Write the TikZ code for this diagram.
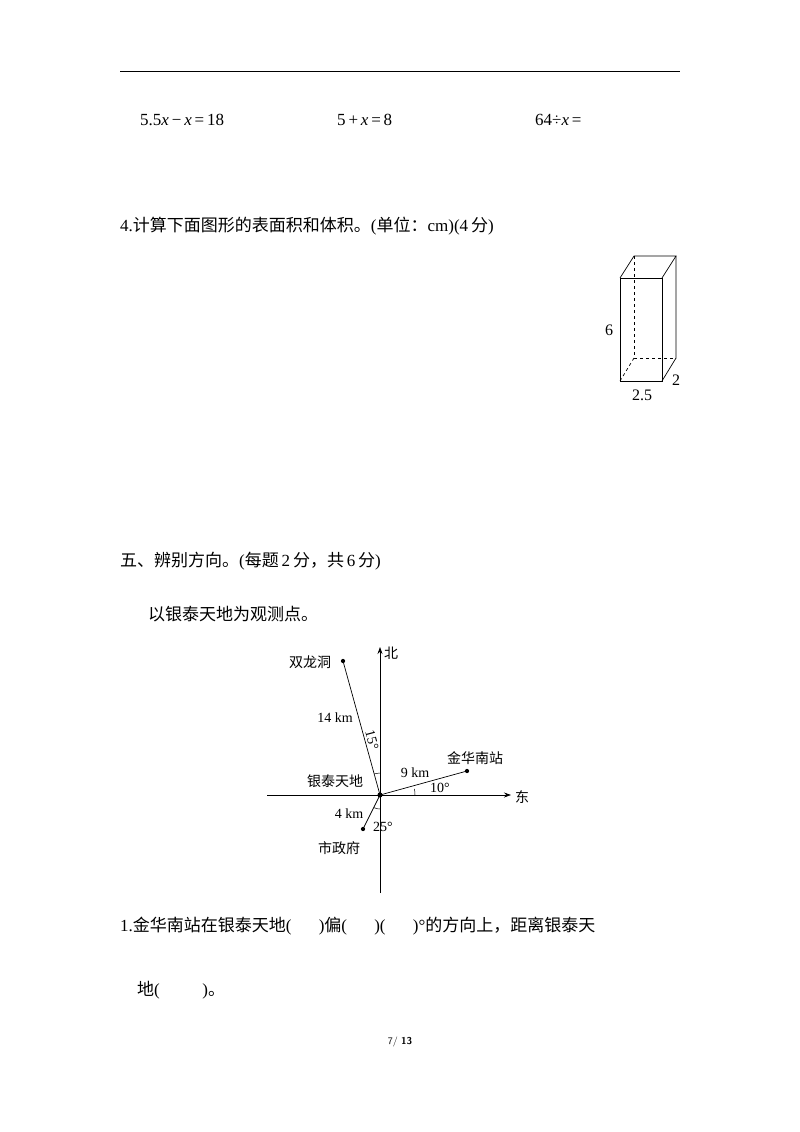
\documentclass[tikz,border=0pt]{standalone}
\usepackage{fontspec}
\setmainfont{Liberation Serif}
\newfontfamily\cjk{Noto Sans CJK SC}
\usetikzlibrary{arrows.meta,calc}
\begin{document}
\begin{tikzpicture}[x=1pt,y=-1pt,
  txt/.style={anchor=west,inner sep=0pt,font=\fontsize{17}{20}\selectfont},
  sm/.style={inner sep=1pt,font=\fontsize{14}{16}\selectfont},
  lab/.style={inner sep=1pt,font=\cjk\fontsize{14}{16}\selectfont},
  ln/.style={line width=0.7pt},
  dot/.style={circle,fill,inner sep=1.5pt}]
\useasboundingbox[fill=white] (0,0) rectangle (800,1132);
\draw[line width=1pt] (120,72) -- (680,72);
\node[txt] (e1) at (140,120) {5.5\textit{x}\,−\,\textit{x}\,=\,18};
\node[txt] (e2) at (337,120) {5\,+\,\textit{x}\,=\,8};
\node[txt] (e3) at (535,120) {64÷\textit{x}\,=};
\node[txt] (q4) at (120,226) {4.{\cjk 计算下面图形的表面积和体积。}(\cjk 单位：\rmfamily cm)(4\,{\cjk 分})};
% box
\draw[ln] (620,278) rectangle (662,381);
\draw[ln] (620,278) -- (634,256) -- (676,256) -- (662,278);
\draw[ln] (676,256) -- (676,358) -- (662,381);
\draw[ln,dashed] (634,256) -- (634,358) -- (676,358);
\draw[ln,dashed] (634,358) -- (620,381);
\node[sm,font=\fontsize{16}{18}\selectfont] (h) at (609,330) {6};
\node[sm,font=\fontsize{16}{18}\selectfont] (w) at (642,395) {2.5};
\node[sm,font=\fontsize{16}{18}\selectfont] (d) at (676,380) {2};
\node[txt] (s5) at (120,561) {\cjk 五、辨别方向。\rmfamily(\cjk 每题\rmfamily\,2\,\cjk 分，共\rmfamily\,6\,\cjk 分\rmfamily)};
\node[txt] (obs) at (148,614) {\cjk 以银泰天地为观测点。};
% compass
\coordinate (O) at (380,795);
\coordinate (N) at (380,647);
\coordinate (S) at (380,893);
\coordinate (W) at (267,795);
\coordinate (E) at (511,795);
\draw[ln,-{Stealth[length=7pt,width=5pt]}] (S) -- (N);
\draw[ln,-{Stealth[length=7pt,width=5pt]}] (W) -- (E);
\node[lab,anchor=west] (nl) at (383,653) {北};
\node[lab,anchor=west] (el) at (514,797) {东};
\node[dot] (A) at (343,661) {};
\node[dot] (B) at (467,771) {};
\node[dot] (C) at (363,829) {};
\node[dot,inner sep=1.8pt] (Oc) at (O) {};
\draw[ln] (O) -- (A.center);
\draw[ln] (O) -- (B.center);
\draw[ln] (O) -- (C.center);
\node[lab] (Al) at (310,662) {双龙洞};
\node[lab] (Bl) at (475,758) {金华南站};
\node[lab] (Cl) at (339,848) {市政府};
\node[lab] (Ol) at (335,781) {银泰天地};
\node[sm] (d1) at (335,718) {14 km};
\node[sm] (d2) at (415,773) {9 km};
\node[sm] (d3) at (349,814) {4 km};
\draw[line width=0.5pt] ($(O)+(0,-22)$) arc (-90:-105:22);
\draw[line width=0.5pt] ($(O)+(35,0)$) arc (0:-10:35);
\draw[line width=0.5pt] ($(O)+(0,14)$) arc (90:115:14);
\node[sm,rotate=-75] (a1) at (372,740) {15°};
\node[sm] (a2) at (440,788) {10°};
\node[sm] (a3) at (383,827) {25°};
\node[txt] (q1) at (120,926) {1.{\cjk 金华南站在银泰天地}(\hspace{1.6em}){\cjk 偏}(\hspace{1.6em})(\hspace{1.6em})°{\cjk 的方向上，距离银泰天}};
\node[txt] (q1b) at (137,990) {{\cjk 地}(\hspace{2.5em}){\cjk 。}};
\node[inner sep=0pt,font=\sffamily\fontsize{10}{12}\selectfont] (pg) at (400,1042) {7/ \textbf{13}};
\end{tikzpicture}
\end{document}
